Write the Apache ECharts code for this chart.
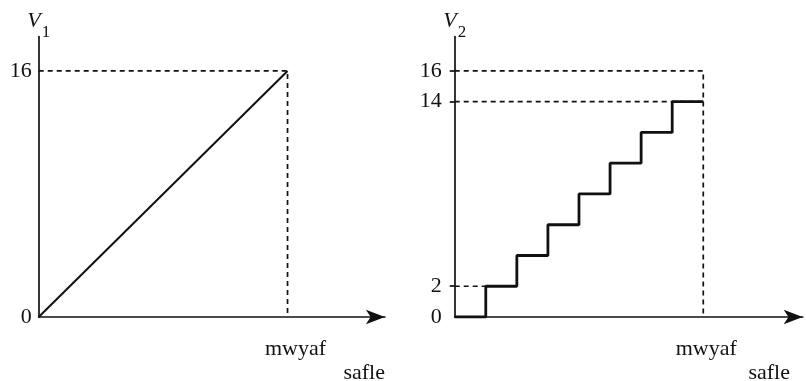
<!DOCTYPE html>
<html>
<head>
<meta charset="utf-8">
<script src="https://cdn.jsdelivr.net/npm/echarts@6/dist/echarts.min.js"></script>
<style>
  html, body { margin: 0; padding: 0; background: #fff; }
  #chart { width: 806px; height: 381px; }
</style>
</head>
<body>
<div id="chart"></div>
<script>
// Left panel: V1 rises linearly from 0 to 16 over the interval
const rampPoints = [[0, 0], [8, 16]];
const rampGuide = [[0, 16], [8, 16], [8, 0]];
const rampTicks = [0, 16];

// Right panel: V2 is a staircase of 2-unit steps, 0 .. 14
const stairX = [0, 1, 2, 3, 4, 5, 6, 7, 8];
const stairLevels = [0, 2, 4, 6, 8, 10, 12, 14, 14];
const stairGuideTop = [[0, 16], [8, 16], [8, 0]];
const stairGuide14 = [[0, 14], [8, 14]];
const stairGuide2 = [[0, 2], [1, 2]];
const stairTicks = [0, 2, 14, 16];

const xEnd = 8;
const xLabel = 'mwyaf';
const xName = 'safle';

const SERIF = '"Liberation Serif", "DejaVu Serif", serif';
const INK = '#111';

function yAxisFor(idx, ticks, sub, margin, showTicks) {
  return {
    type: 'value', gridIndex: idx, min: 0, max: 18.24,
    name: '{v|V}{s|' + sub + '}',
    nameLocation: 'end', nameGap: 4,
    nameTextStyle: {
      rich: {
        v: { fontFamily: SERIF, fontStyle: 'italic', fontSize: 22, color: INK },
        s: { fontFamily: SERIF, fontSize: 17, color: INK, verticalAlign: 'bottom', padding: [0, 0, -9, 1] }
      }
    },
    axisLine: { show: true, lineStyle: { color: INK, width: 1.7 } },
    axisTick: { show: showTicks, customValues: [2, 14, 16], length: 5, lineStyle: { color: INK, width: 1.7 } },
    axisLabel: { customValues: ticks, margin: margin, fontFamily: SERIF, fontSize: 22, color: INK },
    splitLine: { show: false }
  };
}

function xAxisFor(idx, max, shift) {
  return {
    type: 'value', gridIndex: idx, min: 0, max: max,
    axisLine: { show: true, symbol: ['none', 'arrow'], symbolSize: [11, 19], lineStyle: { color: INK, width: 1.7 } },
    axisTick: { show: false },
    axisLabel: {
      customValues: [xEnd], formatter: () => xLabel, margin: 21,
      fontFamily: SERIF, fontSize: 22, color: INK, padding: [0, 0, 0, shift]
    },
    splitLine: { show: false }
  };
}

const dashStyle = { color: INK, width: 1.7, type: [5, 4] };
function guide(data, xi, yi) {
  return { type: 'line', xAxisIndex: xi, yAxisIndex: yi, data: data, symbol: 'none',
           lineStyle: dashStyle, silent: true, z: 1 };
}

const chart = echarts.init(document.getElementById('chart'), null, { renderer: 'canvas' });
chart.setOption({
  animation: false,
  grid: [
    { left: 38.7, top: 36.5, width: 346.2, height: 280.5 },
    { left: 454.7, top: 36.5, width: 348.0, height: 280.5 }
  ],
  xAxis: [xAxisFor(0, 11.13, 16), xAxisFor(1, 11.2, 6)],
  yAxis: [yAxisFor(0, rampTicks, '1', 7, false), yAxisFor(1, stairTicks, '2', 13, true)],
  series: [
    guide(rampGuide, 0, 0),
    { type: 'line', xAxisIndex: 0, yAxisIndex: 0, data: rampPoints, symbol: 'none',
      lineStyle: { color: INK, width: 2 }, z: 3 },
    guide(stairGuideTop, 1, 1),
    guide(stairGuide14, 1, 1),
    guide(stairGuide2, 1, 1),
    { type: 'line', xAxisIndex: 1, yAxisIndex: 1, step: 'end',
      data: stairX.map((x, i) => [x, stairLevels[i]]), symbol: 'none',
      lineStyle: { color: INK, width: 2.8 }, z: 3 }
  ],
  graphic: [
    { type: 'text', right: 806 - 385, top: 362, style: { text: xName, fontFamily: SERIF, fontSize: 22, fill: INK } },
    { type: 'text', right: 806 - 790, top: 362, style: { text: xName, fontFamily: SERIF, fontSize: 22, fill: INK } }
  ]
});
</script>
</body>
</html>
